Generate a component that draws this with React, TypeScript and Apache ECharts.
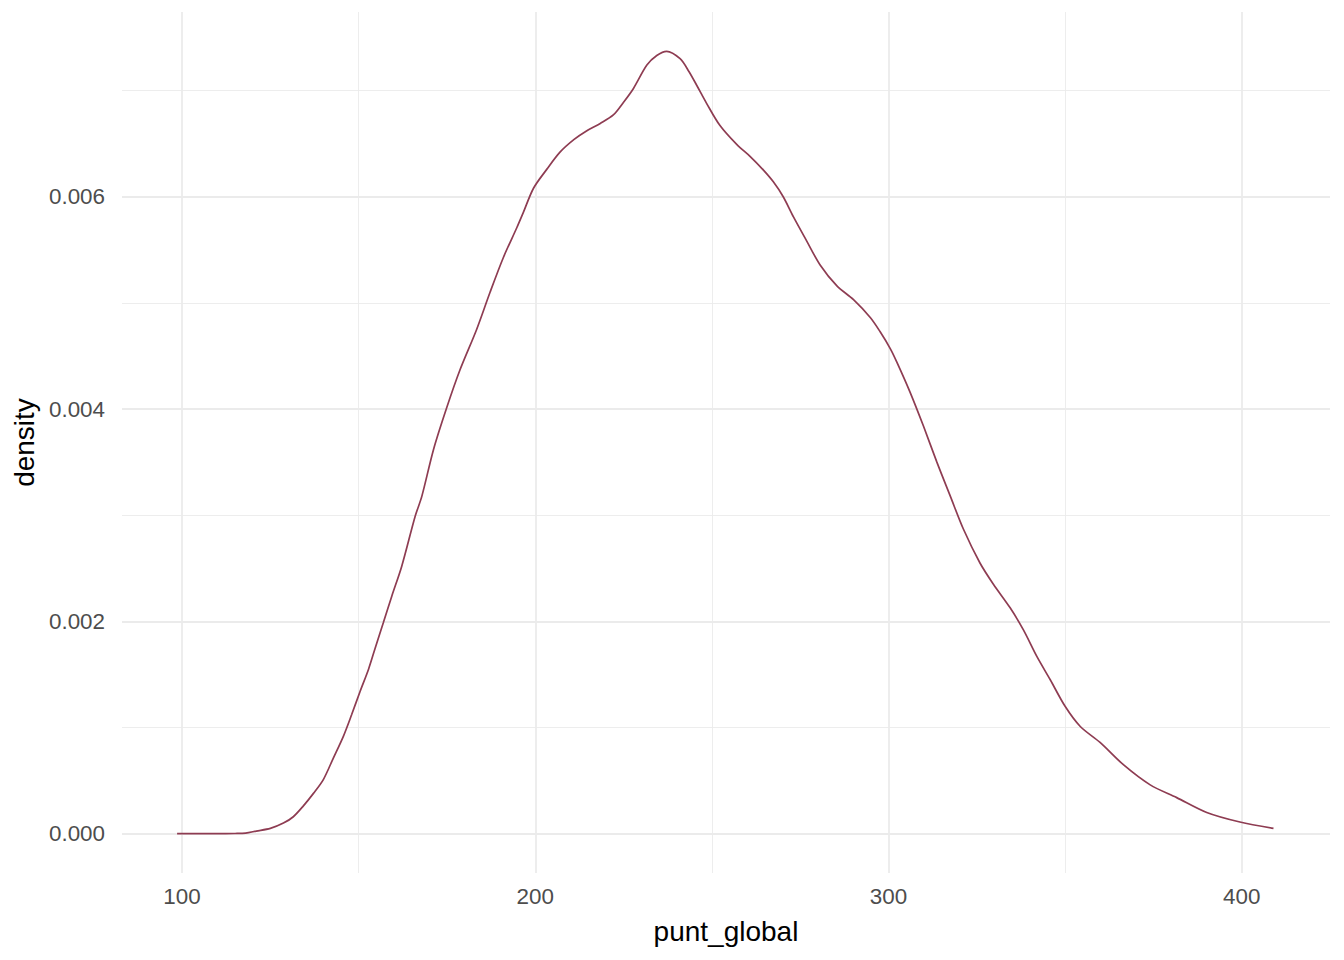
import React, { useEffect, useRef } from "react";
import * as echarts from "echarts";

// Density curve points (x = punt_global, y = density)
const xValues = [
  98.6, 105, 110, 115, 118, 121, 125, 128.7, 131.5, 134.3, 137.2, 140, 142.8, 145.7, 148,
  150.4, 152.8, 154.6, 157, 159.4, 162.2, 166, 167.9, 171.2, 174.9, 178.7, 183.4, 187.2, 191,
  194.8, 196.6, 199.5, 203.3, 207, 211, 214.5, 218.4, 222.1, 225, 227.8, 231.6, 234.4, 237.2,
  241, 243.5, 245.7, 248.5, 252.3, 257.1, 260.8, 264.6, 267.4, 270.2, 273.1, 276.9, 280.6,
  285.4, 290.1, 294.9, 297.6, 300.5, 302.4, 306.1, 309.9, 313.7, 317.5, 321.2, 325.9, 329.7,
  334.4, 338.2, 342, 345.8, 350, 354.3, 359.9, 366.5, 374.1, 381.6, 390.1, 399.5, 409,
];
const densityValues = [
  0, 0, 0, 0.002, 0.006, 0.025, 0.05, 0.1, 0.16, 0.26, 0.38, 0.51, 0.71, 0.92, 1.12,
  1.34, 1.55, 1.74, 1.99, 2.24, 2.52, 2.99, 3.18, 3.62, 4.01, 4.37, 4.75, 5.1, 5.43,
  5.71, 5.85, 6.08, 6.26, 6.42, 6.54, 6.62, 6.69, 6.77, 6.89, 7.02, 7.24, 7.33, 7.37,
  7.3, 7.18, 7.05, 6.88, 6.67, 6.49, 6.38, 6.25, 6.14, 6.0, 5.81, 5.58, 5.36,
  5.16, 5.03, 4.86, 4.73, 4.57, 4.44, 4.16, 3.84, 3.5, 3.18, 2.87, 2.55, 2.35,
  2.13, 1.92, 1.67, 1.45, 1.2, 1.01, 0.86, 0.65, 0.46, 0.34, 0.2, 0.11, 0.05,
].map((v) => v / 1000);

const xTicks = [100, 200, 300, 400];
const xMinorGrid = [150, 250, 350];
const yTicks = [0, 0.002, 0.004, 0.006];
const yMinorGrid = [0.001, 0.003, 0.005, 0.007];
const xTickLabels = ["100", "200", "300", "400"];
const yTickLabels = ["0.000", "0.002", "0.004", "0.006"];

const FONT = "'Liberation Sans', Arial, sans-serif";
const GRID_COLOR = "#EBEBEB";

export default function App() {
  const ref = useRef<HTMLDivElement>(null);

  useEffect(() => {
    if (!ref.current) return;
    const chart = echarts.init(ref.current, undefined, { renderer: "svg" });

    const gridLines = [
      ...xTicks.map((v) => ({ xAxis: v, lineStyle: { width: 1.8, color: GRID_COLOR, type: "solid" } })),
      ...xMinorGrid.map((v) => ({ xAxis: v, lineStyle: { width: 0.9, color: GRID_COLOR, type: "solid" } })),
      ...yTicks.map((v) => ({ yAxis: v, lineStyle: { width: 1.8, color: GRID_COLOR, type: "solid" } })),
      ...yMinorGrid.map((v) => ({ yAxis: v, lineStyle: { width: 0.9, color: GRID_COLOR, type: "solid" } })),
    ];

    chart.setOption({
      animation: false,
      backgroundColor: "#FFFFFF",
      grid: { left: 122, top: 12, width: 1208, height: 861, containLabel: false },
      xAxis: {
        type: "value",
        min: 83,
        max: 425,
        name: "punt_global",
        nameLocation: "middle",
        nameGap: 44,
        nameTextStyle: { fontFamily: FONT, fontSize: 28, color: "#000000" },
        axisLine: { show: false },
        axisTick: { show: false },
        splitLine: { show: false },
        axisLabel: {
          customValues: xTicks,
          formatter: (v: number) => xTickLabels[xTicks.indexOf(v)] ?? "",
          fontFamily: FONT,
          fontSize: 22.4,
          color: "#4D4D4D",
          margin: 12,
        },
      },
      yAxis: {
        type: "value",
        min: -0.00037,
        max: 0.00774,
        name: "density",
        nameLocation: "middle",
        nameGap: 78,
        nameTextStyle: { fontFamily: FONT, fontSize: 28, color: "#000000" },
        axisLine: { show: false },
        axisTick: { show: false },
        splitLine: { show: false },
        axisLabel: {
          customValues: yTicks,
          formatter: (v: number) => {
            const i = yTicks.findIndex((t) => Math.abs(t - v) < 1e-9);
            return i >= 0 ? yTickLabels[i] : "";
          },
          fontFamily: FONT,
          fontSize: 22.4,
          color: "#4D4D4D",
          margin: 17,
        },
      },
      series: [
        {
          type: "line",
          z: 1,
          silent: true,
          data: [[100, 0]],
          showSymbol: false,
          lineStyle: { opacity: 0 },
          markLine: {
            silent: true,
            precision: 8,
            symbol: ["none", "none"],
            label: { show: false },
            emphasis: { disabled: true },
            data: gridLines,
          },
        },
        {
          type: "line",
          z: 5,
          data: xValues.map((x, i) => [x, densityValues[i]]),
          showSymbol: false,
          smooth: 0.3,
          lineStyle: { color: "#8E3C52", width: 1.7 },
        },
      ],
    });

    return () => chart.dispose();
  }, []);

  return (
    <div
      ref={ref}
      style={{ position: "absolute", left: 0, top: 0, width: 1344, height: 960 }}
    />
  );
}
